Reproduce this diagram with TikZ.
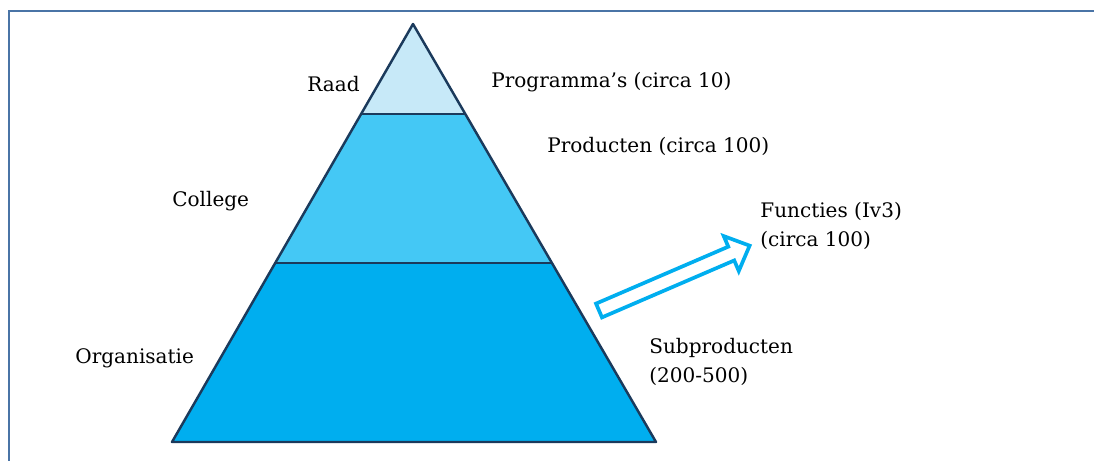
\documentclass[tikz,border=0pt]{standalone}
\usepackage{fontspec}
\setmainfont{DejaVu Serif}
\definecolor{lvltop}{HTML}{C7E9F8}
\definecolor{lvlmid}{HTML}{44C8F5}
\definecolor{lvlbot}{HTML}{00AEEF}
\definecolor{edgeblue}{HTML}{1B3A5C}
\definecolor{framblue}{HTML}{4A74A6}
\tikzset{
  lbl/.style={anchor=west, inner sep=0pt, font=\fontsize{11.4pt}{16.2pt}\selectfont, align=left},
  layer/.style={draw=edgeblue, line width=1.4pt, line join=round}
}
\begin{document}
\begin{tikzpicture}[x=0.02cm, y=-0.02cm]
            \useasboundingbox (0,0) rectangle (1094,461);
            \draw[framblue, line width=1.3pt] (1094,11) -- (9,11) -- (9,461);
            \coordinate (apex) at (413,24);
            \coordinate (l1) at (361,114);
            \coordinate (r1) at (465,114);
            \coordinate (l2) at (275,263);
            \coordinate (r2) at (552,263);
            \coordinate (bl) at (172,442);
            \coordinate (br) at (656,442);
            \fill[lvltop] (apex) -- (r1) -- (l1) -- cycle;
            \fill[lvlmid] (l1) -- (r1) -- (r2) -- (l2) -- cycle;
            \fill[lvlbot] (l2) -- (r2) -- (br) -- (bl) -- cycle;
            \draw[layer] (apex) -- (br) -- (bl) -- cycle;
            \draw[layer] (l1) -- (r1);
            \draw[layer] (l2) -- (r2);
            \begin{scope}[shift={(599,310.5)}, rotate=23.3]
                \draw[lvlbot, line width=2.1pt, fill=white, line join=miter]
                    (0,-7.5) -- (144,-7.5) -- (144,-19) -- (164,0) -- (144,19) -- (144,7.5) -- (0,7.5) -- cycle;
            \end{scope}
            \node[lbl] (raad) at (307,84) {Raad};
            \node[lbl] (prog) at (491,82) {Programma’s (circa 10)};
            \node[lbl] (prod) at (547,146) {Producten (circa 100)};
            \node[lbl] (coll) at (172,201) {College};
            \node[lbl] (func) at (760,226) {Functies (Iv3)\\(circa 100)};
            \node[lbl] (org) at (75,358) {Organisatie};
            \node[lbl] (sub) at (649,362) {Subproducten\\(200-500)};
        \end{tikzpicture}
\end{document}
